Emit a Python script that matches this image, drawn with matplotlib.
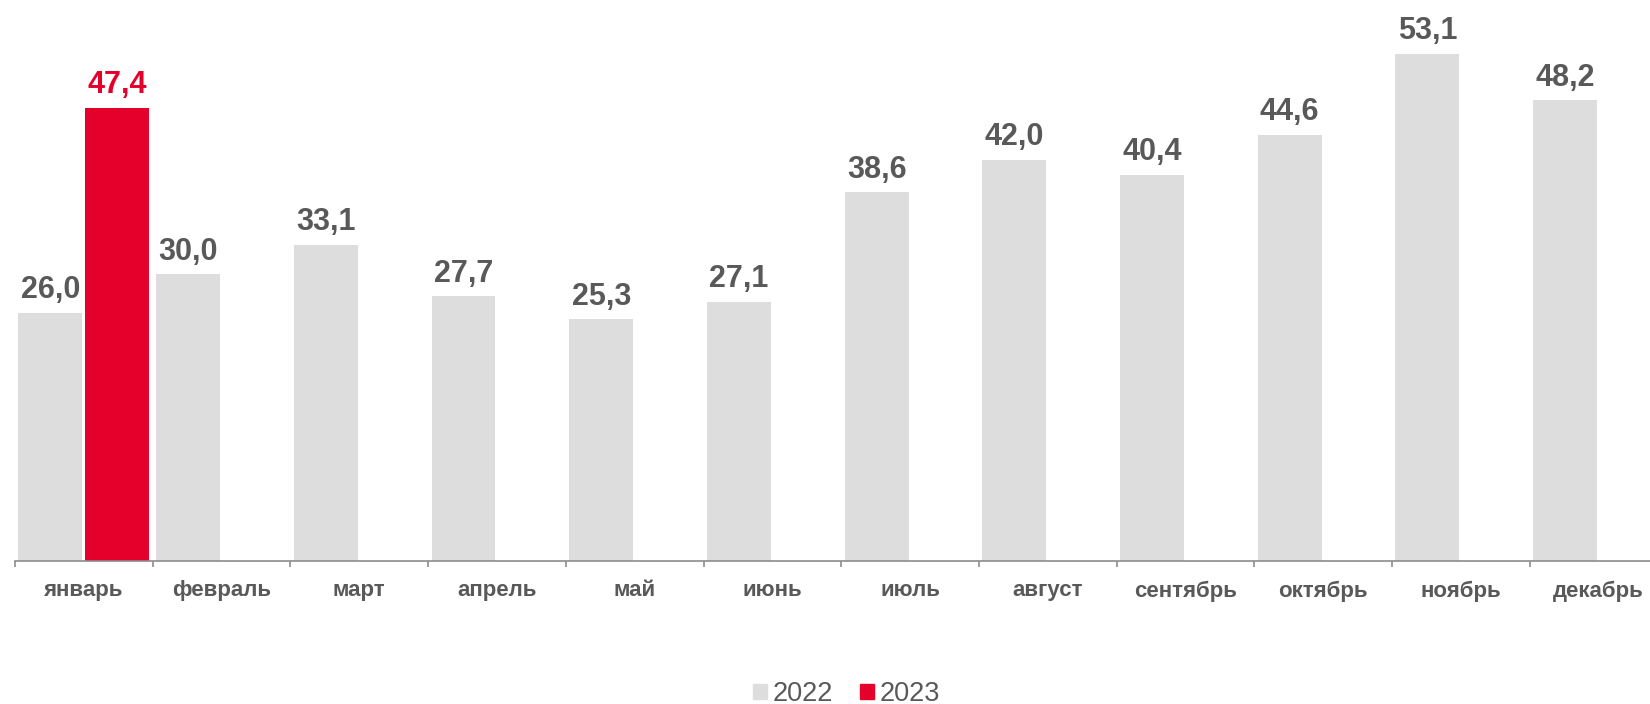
import matplotlib.pyplot as plt
import numpy as np
from matplotlib.patches import Patch

months = ['январь', 'февраль', 'март', 'апрель', 'май', 'июнь', 'июль',
          'август', 'сентябрь', 'октябрь', 'ноябрь', 'декабрь']
v2022 = [26.0, 30.0, 33.1, 27.7, 25.3, 27.1, 38.6, 42.0, 40.4, 44.6, 53.1, 48.2]
v2023 = [47.4] + [np.nan] * 11

gray = '#DDDDDD'
red = '#E4002B'
txt = '#595959'

plt.rcParams['font.family'] = ['Liberation Sans', 'DejaVu Sans']

fig = plt.figure(figsize=(16.5, 7.04), dpi=100)
ax = fig.add_axes([15 / 1650, 143 / 704, 12 * 137.7 / 1650, 561 / 704])

x = np.arange(len(months))
w = 0.464
off = 0.2428
ax.bar(x - off, v2022, w, color=gray)
ax.bar(x + off, v2023, w, color=red)

def fmt(v):
    return f'{v:.1f}'.replace('.', ',')

for xi, v in zip(x - off, v2022):
    ax.annotate(fmt(v), (xi, v), xytext=(0, 10.5), textcoords='offset points',
                ha='center', va='baseline', fontsize=22, fontweight='bold', color=txt)
for xi, v in zip(x + off, v2023):
    if not np.isnan(v):
        ax.annotate(fmt(v), (xi, v), xytext=(0, 10.5), textcoords='offset points',
                    ha='center', va='baseline', fontsize=22, fontweight='bold', color=red)

ax.set_xlim(-0.5, 11.5)
ax.set_ylim(0, 58.7)
for s in ['top', 'right', 'left']:
    ax.spines[s].set_visible(False)
ax.spines['bottom'].set_color('#8C8C8C')
ax.spines['bottom'].set_linewidth(1.2)
ax.set_yticks([])
ax.set_xticks(x)
ax.set_xticklabels(months, fontsize=16, fontweight='bold', color=txt)
ax.tick_params(axis='x', which='major', length=0, pad=14)
ax.set_xticks(np.arange(-0.5, 12, 1), minor=True)
ax.tick_params(axis='x', which='minor', length=4.5, width=1.2, color='#8C8C8C')

handles = [Patch(color=gray), Patch(color=red)]
fig.legend(handles, ['2022', '2023'], loc='center', bbox_to_anchor=(0.513, 0.014),
           ncol=2, frameon=False, fontsize=19.5, labelcolor=txt,
           handlelength=0.52, handleheight=0.52, handletextpad=0.2, columnspacing=1.0)

fig.savefig('out.png', dpi=100)
